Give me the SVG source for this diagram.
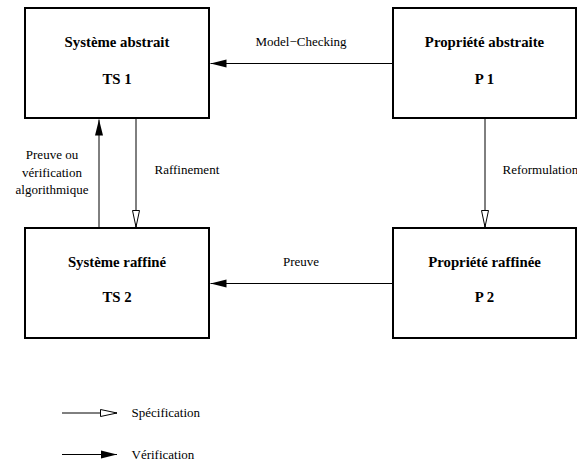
<svg xmlns="http://www.w3.org/2000/svg" width="577" height="464" viewBox="0 0 577 464">
  <style>
    .box { fill: #fff; stroke: #000; stroke-width: 2; }
    .title { font-family: "Liberation Serif", "Times New Roman", serif; font-weight: bold; font-size: 14.8px; text-anchor: middle; fill: #000; }
    .lbl { font-family: "Liberation Serif", "Times New Roman", serif; font-size: 13px; fill: #000; }
    .mid { text-anchor: middle; }
    .spec { stroke: #000; stroke-width: 1; fill: none; marker-end: url(#open); }
    .verif { stroke: #000; stroke-width: 1; fill: none; marker-end: url(#solid); }
  </style>
  <defs>
    <!-- filled head: verification -->
    <marker id="solid" markerUnits="userSpaceOnUse" markerWidth="18" markerHeight="10" refX="16" refY="4" orient="auto" overflow="visible">
      <path d="M0,0 L16,4 L0,8 Z" fill="#000"/>
    </marker>
    <!-- hollow head: specification -->
    <marker id="open" markerUnits="userSpaceOnUse" markerWidth="18" markerHeight="10" refX="16.5" refY="3.5" orient="auto" overflow="visible">
      <path d="M0,0 L16.5,3.5 L0,7 Z" fill="#fff" stroke="#000" stroke-width="1"/>
    </marker>
  </defs>

  <!-- connectors -->
  <g id="connectors">
    <line class="verif" x1="393" y1="63.5" x2="210.5" y2="63.5"/>
    <text class="lbl mid" x="301" y="46">Model−Checking</text>

    <line class="verif" x1="393" y1="283.5" x2="210.5" y2="283.5"/>
    <text class="lbl mid" x="301" y="266">Preuve</text>

    <line class="verif" x1="99" y1="228" x2="99" y2="119.5"/>
    <text class="lbl mid" x="52" y="159">Preuve ou</text>
    <text class="lbl mid" x="52" y="176.5">vérification</text>
    <text class="lbl mid" x="52" y="194">algorithmique</text>

    <line class="spec" x1="136" y1="119" x2="136" y2="227"/>
    <text class="lbl" x="154.5" y="173.5">Raffinement</text>

    <line class="spec" x1="485" y1="119" x2="485" y2="227"/>
    <text class="lbl" x="502.5" y="173.5">Reformulation</text>
  </g>

  <!-- nodes -->
  <g id="ts1">
    <rect class="box" x="25" y="8" width="184" height="110"/>
    <text class="title" x="117" y="46.5">Système abstrait</text>
    <text class="title" x="117" y="83.5">TS 1</text>
  </g>
  <g id="p1">
    <rect class="box" x="393" y="8" width="183" height="110"/>
    <text class="title" x="484.5" y="46.5">Propriété abstraite</text>
    <text class="title" x="484.5" y="83.5">P 1</text>
  </g>
  <g id="ts2">
    <rect class="box" x="25" y="228" width="184" height="110"/>
    <text class="title" x="117" y="266.5">Système raffiné</text>
    <text class="title" x="117" y="302">TS 2</text>
  </g>
  <g id="p2">
    <rect class="box" x="393" y="228" width="183" height="110"/>
    <text class="title" x="484.5" y="266.5">Propriété raffinée</text>
    <text class="title" x="484.5" y="302">P 2</text>
  </g>

  <!-- legend -->
  <g id="legend">
    <line class="spec" x1="62" y1="413" x2="117" y2="413"/>
    <text class="lbl" x="131.5" y="417">Spécification</text>
    <line class="verif" x1="62" y1="454.5" x2="117" y2="454.5"/>
    <text class="lbl" x="131.5" y="458.5">Vérification</text>
  </g>
</svg>
